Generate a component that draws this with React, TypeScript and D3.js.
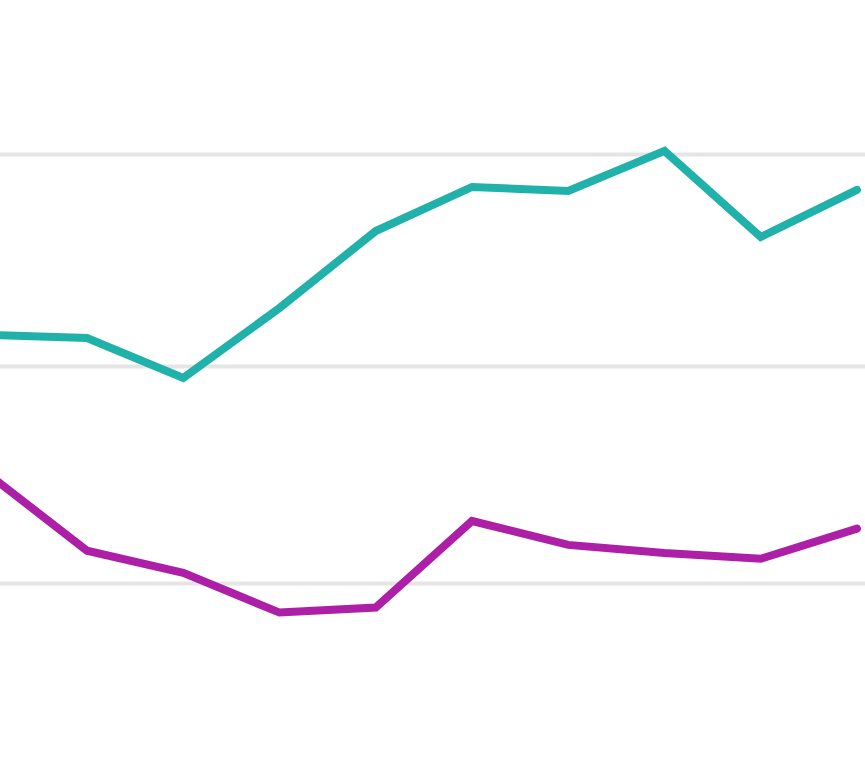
import React from "react";
import * as d3 from "d3";

const categories = ["P0", "P1", "P2", "P3", "P4", "P5", "P6", "P7", "P8", "P9"];
const tealValues = [51.49, 51.34, 49.47, 52.76, 56.39, 58.47, 58.28, 60.17, 56.11, 58.33];
const magentaValues = [44.95, 41.51, 40.49, 38.66, 38.89, 42.88, 41.78, 41.41, 41.14, 42.53];
const gridTicks = [40, 50, 60];

const W = 865;
const H = 763;

export default function App() {
  const x = d3.scalePoint<string>().domain(categories).range([-9.25, 857]);
  const y = d3.scaleLinear().domain([40, 50, 60]).range([583.5, 366.5, 154.5]);
  const line = d3
    .line<number>()
    .x((_, i) => x(categories[i]) as number)
    .y((d) => y(d));

  return (
    <svg
      width={W}
      height={H}
      style={{ position: "absolute", left: 0, top: 0, background: "#fff" }}
    >
      <rect width={W} height={H} fill="#fff" />
      {gridTicks.map((t) => (
        <line key={t} x1={0} x2={W} y1={y(t)} y2={y(t)} stroke="#e5e5e5" strokeWidth={4} />
      ))}
      <path
        d={line(tealValues) || ""}
        fill="none"
        stroke="#20b2aa"
        strokeWidth={8}
        strokeLinecap="round"
        strokeLinejoin="miter"
      />
      <path
        d={line(magentaValues) || ""}
        fill="none"
        stroke="#ae1fa8"
        strokeWidth={8}
        strokeLinecap="round"
        strokeLinejoin="miter"
      />
    </svg>
  );
}
